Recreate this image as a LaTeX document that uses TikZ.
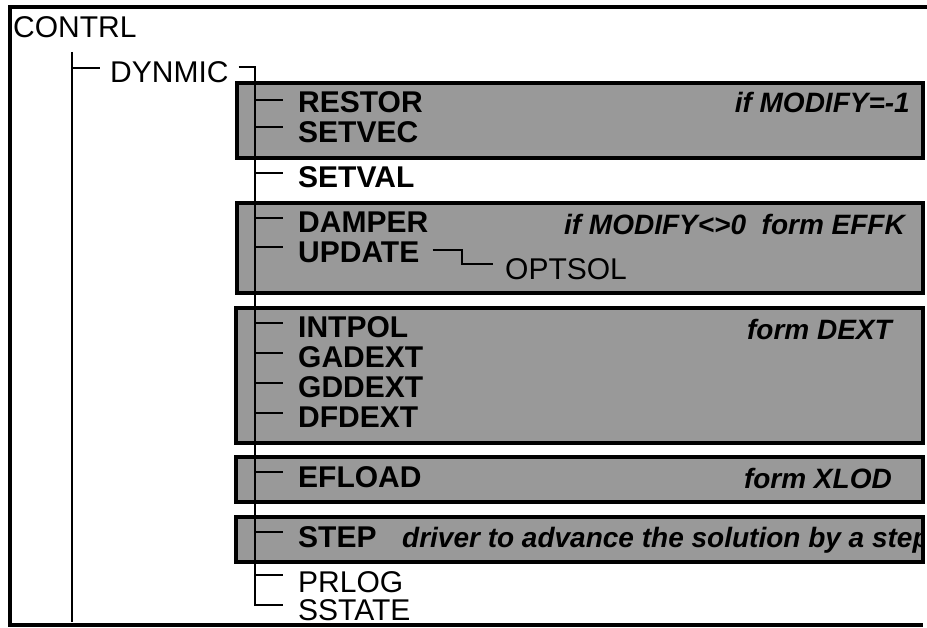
\documentclass[tikz,border=0pt]{standalone}
\usepackage{fontspec}
\setmainfont{Liberation Sans}
\begin{document}
\begin{tikzpicture}[x=1pt,y=-1pt,
  lbl/.style={anchor=base west,inner sep=0pt,font=\fontsize{30}{30}\selectfont},
  blbl/.style={anchor=base west,inner sep=0pt,font=\fontsize{30}{30}\selectfont\bfseries},
  note/.style={anchor=base east,inner sep=0pt,font=\fontsize{28}{28}\selectfont\bfseries\itshape},
  shadebox/.style={fill=black!40,draw=black,line width=3.2pt},
  wire/.style={line width=2.8pt},
  frameline/.style={line width=3.2pt}]
\useasboundingbox (0,0) rectangle (927,628);
% frame
\draw[frameline] (927,7) -- (10,7) -- (10,625) -- (923,625);
% shaded boxes
\draw[shadebox] (237,83) rectangle (923,158);
\draw[shadebox] (237,203) rectangle (923,293);
\draw[shadebox] (236,308) rectangle (923,443);
\draw[shadebox] (236,457) rectangle (923,502);
\draw[shadebox] (236,517) rectangle (923,562);
% texts
\node[lbl] (contrl) at (13,38) {CONTRL};
\node[lbl] (dynmic) at (110,83) {DYNMIC};
\node[blbl] (restor) at (298,113) {RESTOR};
\node[blbl] (setvec) at (298,143) {SETVEC};
\node[blbl] (setval) at (298,188) {SETVAL};
\node[blbl] (damper) at (298,233) {DAMPER};
\node[blbl] (update) at (298,263) {UPDATE};
\node[lbl] (optsol) at (505,280) {OPTSOL};
\node[blbl] (intpol) at (298,338) {INTPOL};
\node[blbl] (gadext) at (298,368) {GADEXT};
\node[blbl] (gddext) at (298,398) {GDDEXT};
\node[blbl] (dfdext) at (298,428) {DFDEXT};
\node[blbl] (efload) at (298,487) {EFLOAD};
\node[blbl] (step1) at (298,547) {STEP};
\node[lbl] (prlog) at (298,592) {PRLOG};
\node[lbl] (sstate) at (298,620) {SSTATE};
\node[note] (n1) at (910,113) {if MODIFY=-1};
\node[note] (n2) at (905,235) {if MODIFY<>0\ \ form EFFK};
\node[note] (n3) at (892,340) {form DEXT};
\node[note] (n4) at (892,488) {form XLOD};
\begin{scope}
\clip (236,517) rectangle (921.4,562);
\node[note,anchor=base west] (n5) at (402,547) {driver to advance the solution by a step};
\end{scope}
% trunk of CONTRL
\coordinate (t1top) at (72,52);
\coordinate (t1bot) at (72,622);
\draw[wire] (t1top) -- (t1bot);
\draw[wire] (72,68) -- ([xshift=-10pt]dynmic.west |- 0,68);
% trunk of DYNMIC
\draw[wire] ([xshift=10pt]dynmic.east |- 0,67) -- (255,67) -- (255,605) -- (283,605);
\foreach \yy in {100,127,173,218,247,323,353,383,413,472,532,575}
  \draw[wire] (255,\yy) -- (283,\yy);
% UPDATE -> OPTSOL
\draw[wire] ([xshift=13pt]update.east |- 0,250) -- (462,250) -- (462,264) -- (493,264);
\end{tikzpicture}
\end{document}
